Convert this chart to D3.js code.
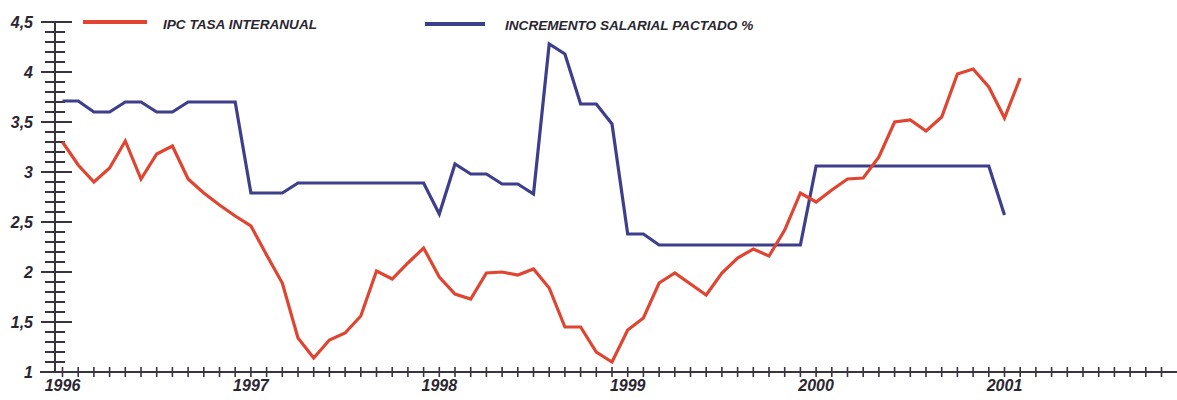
<!DOCTYPE html>
<html>
<head>
<meta charset="utf-8">
<script src="https://cdn.jsdelivr.net/npm/d3@7"></script>
<style>
  html, body { margin: 0; padding: 0; background: #ffffff; }
  svg { display: block; }
  text { font-family: "Liberation Sans", Arial, sans-serif; font-weight: bold; font-style: italic; fill: #2a2630; }
</style>
</head>
<body>
<svg id="chart" width="1177" height="400"></svg>
<script>
// ---- data (monthly, starting January 1996) ----
const startYear = 1996;
const yearLabels = ["1996", "1997", "1998", "1999", "2000", "2001"];
const yTickValues = [1, 1.5, 2, 2.5, 3, 3.5, 4, 4.5];
const yTickLabels = ["1", "1,5", "2", "2,5", "3", "3,5", "4", "4,5"];
const seriesNames = ["IPC TASA INTERANUAL", "INCREMENTO SALARIAL PACTADO %"];

const ipc = [
  3.30, 3.07, 2.90, 3.04, 3.31, 2.93, 3.18, 3.26, 2.93, 2.79, 2.67, 2.56,
  2.46, 2.17, 1.89, 1.34, 1.14, 1.32, 1.39, 1.56, 2.01, 1.93, 2.09, 2.24,
  1.95, 1.78, 1.73, 1.99, 2.00, 1.97, 2.03, 1.84, 1.45, 1.45, 1.20, 1.10,
  1.42, 1.54, 1.89, 1.99, 1.88, 1.77, 1.99, 2.14, 2.23, 2.16, 2.42, 2.79,
  2.70, 2.82, 2.93, 2.94, 3.15, 3.50, 3.52, 3.41, 3.55, 3.98, 4.03, 3.85,
  3.54, 3.94
];
const salarial = [
  3.71, 3.71, 3.60, 3.60, 3.70, 3.70, 3.60, 3.60, 3.70, 3.70, 3.70, 3.70,
  2.79, 2.79, 2.79, 2.89, 2.89, 2.89, 2.89, 2.89, 2.89, 2.89, 2.89, 2.89,
  2.58, 3.08, 2.98, 2.98, 2.88, 2.88, 2.78, 4.28, 4.18, 3.68, 3.68, 3.48,
  2.38, 2.38, 2.27, 2.27, 2.27, 2.27, 2.27, 2.27, 2.27, 2.27, 2.27, 2.27,
  3.06, 3.06, 3.06, 3.06, 3.06, 3.06, 3.06, 3.06, 3.06, 3.06, 3.06, 3.06,
  2.57
];
const monthTickCount = 71; // monthly ticks on the time axis

// ---- layout ----
const svg = d3.select("#chart");
const W = 1177;
const axisColor = "#3a3340";
const red = "#df4530";
const blue = "#3e3f8c";

const x = d3.scaleLinear().domain([0, 60]).range([62.5, 1004.5]);
const y = d3.scaleLinear().domain([1, 4.5]).range([372, 22]);
const yAxisX = 55;

// ---- Y axis ----
const gy = svg.append("g");
gy.append("line")
  .attr("x1", yAxisX).attr("x2", yAxisX)
  .attr("y1", y(4.5) - 1).attr("y2", y(1))
  .attr("stroke", axisColor).attr("stroke-width", 2);

const minorVals = d3.range(10, 46).map(d => d / 10).filter(v => !yTickValues.some(m => Math.abs(m - v) < 1e-9));
gy.selectAll("line.minor").data(minorVals).join("line")
  .attr("class", "minor")
  .attr("x1", yAxisX - 10).attr("x2", yAxisX + 10)
  .attr("y1", d => y(d)).attr("y2", d => y(d))
  .attr("stroke", axisColor).attr("stroke-width", 2);

gy.selectAll("line.major").data(yTickValues).join("line")
  .attr("class", "major")
  .attr("x1", yAxisX - 14).attr("x2", yAxisX + 17)
  .attr("y1", d => y(d)).attr("y2", d => y(d))
  .attr("stroke", axisColor).attr("stroke-width", 2);

gy.selectAll("text").data(yTickValues).join("text")
  .attr("x", 33).attr("y", d => y(d))
  .attr("dy", "0.36em")
  .attr("text-anchor", "end")
  .style("font-size", "16px")
  .text((d, i) => yTickLabels[i]);

// ---- X axis ----
const gx = svg.append("g");
gx.append("line")
  .attr("x1", 40).attr("x2", W)
  .attr("y1", y(1)).attr("y2", y(1))
  .attr("stroke", axisColor).attr("stroke-width", 2);

gx.selectAll("line.mt").data(d3.range(monthTickCount)).join("line")
  .attr("class", "mt")
  .attr("x1", d => x(d)).attr("x2", d => x(d))
  .attr("y1", y(1) - 5).attr("y2", y(1) + 5)
  .attr("stroke", axisColor).attr("stroke-width", 1.6);

gx.selectAll("text").data(yearLabels).join("text")
  .attr("x", (d, i) => x(i * 12))
  .attr("y", 391)
  .attr("text-anchor", "middle")
  .style("font-size", "16px")
  .text(d => d);

// ---- lines ----
const line = d3.line().x((d, i) => x(i)).y(d => y(d));

svg.append("path").datum(salarial)
  .attr("d", line)
  .attr("fill", "none").attr("stroke", blue)
  .attr("stroke-width", 3.2).attr("stroke-linejoin", "miter");

svg.append("path").datum(ipc)
  .attr("d", line)
  .attr("fill", "none").attr("stroke", red)
  .attr("stroke-width", 3.2).attr("stroke-linejoin", "miter");

// ---- legend ----
const legend = [
  { name: seriesNames[0], color: red, x1: 83, x2: 147, ly: 22, tx: 163, ty: 28.5 },
  { name: seriesNames[1], color: blue, x1: 425, x2: 485, ly: 24, tx: 505, ty: 29.5 }
];
const gl = svg.append("g");
legend.forEach(l => {
  gl.append("line")
    .attr("x1", l.x1).attr("x2", l.x2).attr("y1", l.ly).attr("y2", l.ly)
    .attr("stroke", l.color).attr("stroke-width", 4);
  gl.append("text")
    .attr("x", l.tx).attr("y", l.ty)
    .style("font-size", "13.6px")
    .text(l.name);
});
</script>
</body>
</html>
